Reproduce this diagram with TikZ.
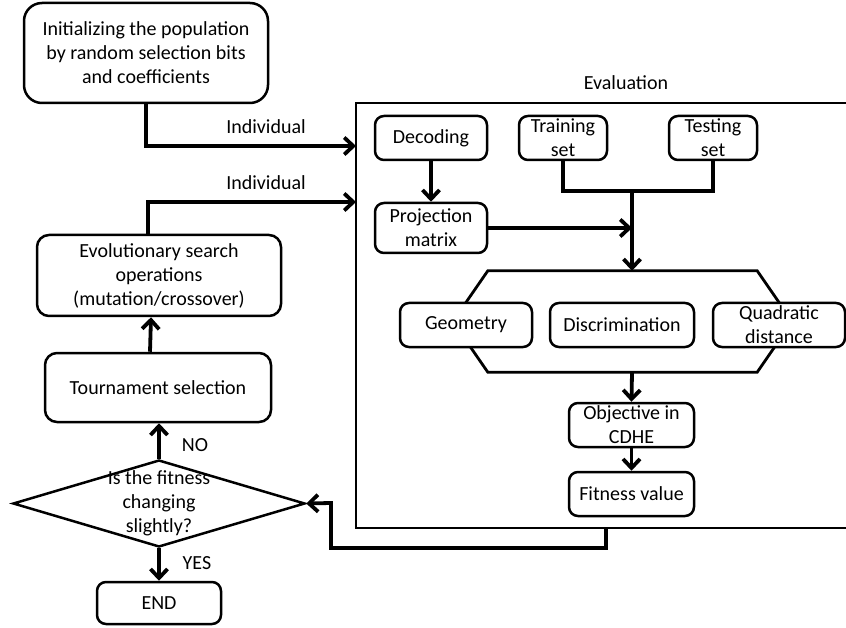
\documentclass[tikz,border=0pt]{standalone}
\usepackage{fontspec}
\setmainfont{Carlito}
\usetikzlibrary{arrows.meta, positioning, shapes.geometric}
\tikzstyle{block} = [draw, line width=2.5pt, rounded corners=9pt, fill=white, align=center, inner sep=0pt]
\tikzstyle{flow} = [line width=3.8pt, -{Straight Barb[length=9pt, width=17pt]}]
\tikzstyle{link} = [line width=3.8pt]

\begin{document}
\begin{tikzpicture}[x=1pt, y=-1pt, font=\fontsize{20}{24}\selectfont]

\useasboundingbox (0, 0) rectangle (846, 628);

% main loop
\node [block, rounded corners=18pt, minimum width=244pt, minimum height=100pt] (init) at (146, 53) {Initializing the population\\by random selection bits\\and coefficients};
\node [block, rounded corners=12pt, minimum width=244pt, minimum height=81pt] (evo) at (159, 275.5) {Evolutionary search\\operations\\(mutation/crossover)};
\node [block, rounded corners=12pt, minimum width=226pt, minimum height=69pt] (tour) at (158, 387.5) {Tournament selection};
\node [draw, diamond, line width=2.5pt, inner sep=0pt, minimum width=292pt, minimum height=87pt] (check) at (159, 503.5) {};
\node [align=center] (checktext) at (check) {Is the fitness\\changing\\slightly?};
\node [block, minimum width=124pt, minimum height=42pt] (end) at (159, 603) {END};

% evaluation frame
\draw [line width=2.5pt] (846, 103) -| (356, 528) -- (846, 528);
\node (evallabel) at (626, 83) {Evaluation};
\coordinate (evalin1) at (356, 146);
\coordinate (evalin2) at (356, 202);
\coordinate (evalout) at (606, 528);

\node [block, minimum width=112pt, minimum height=44pt] (decode) at (431, 138) {Decoding};
\node [block, minimum width=88pt, minimum height=44pt] (train) at (563, 138) {Training\\set};
\node [block, minimum width=88pt, minimum height=44pt] (test) at (713, 138) {Testing\\set};
\node [block, minimum width=112pt, minimum height=50pt] (proj) at (431, 228) {Projection\\matrix};

% hexagon round the three measures
\node [inner sep=0pt, minimum width=339pt, minimum height=101pt] (hex) at (622.5, 321.5) {};
\draw [line width=2.8pt] (hex.west) -- ([xshift=35pt]hex.north west) -- ([xshift=-35pt]hex.north east) -- (hex.east) -- ([xshift=-35pt]hex.south east) -- ([xshift=35pt]hex.south west) -- cycle;
\node [block, minimum width=132pt, minimum height=44pt] (geom) at (466, 325) {Geometry};
\node [block, minimum width=144pt, minimum height=44pt] (discr) at (622, 325) {Discrimination};
\node [block, minimum width=132pt, minimum height=44pt] (quad) at (779, 325) {Quadratic\\distance};

\node [block, minimum width=125pt, minimum height=44pt] (obj) at (631.5, 425) {Objective in\\CDHE};
\node [block, minimum width=125pt, minimum height=44pt] (fit) at (631.5, 494) {Fitness value};

\coordinate (join) at (632, 191);

% connectors
\draw [flow] (init.south) |- (evalin1);
\node (ind1) at (266, 127) {Individual};
\draw [flow] ([xshift=-11pt]evo.north) |- (evalin2);
\node (ind2) at (266, 183) {Individual};
\draw [flow] ([xshift=-8pt]tour.north) -- ([xshift=-8pt]evo.south);
\draw [flow] (check.north) -- (check.north |- tour.south);
\node (no) at (195, 445) {NO};
\draw [flow] (check.south) -- (end.north);
\node (yes) at (197, 563) {YES};
\draw [flow] (evalout) -- (606, 548) -| (331, 503) -- (check.east);

\draw [flow] (decode) -- (proj);
\draw [link] (train.south) |- (join) -| (test.south);
\draw [flow] (join) -- (join |- hex.north);
\draw [flow] (proj.east) -- (proj.east -| join);
\draw [flow] (join |- hex.south) -- (obj.north);
\draw [flow] (obj) -- (fit);

\end{tikzpicture}
\end{document}
